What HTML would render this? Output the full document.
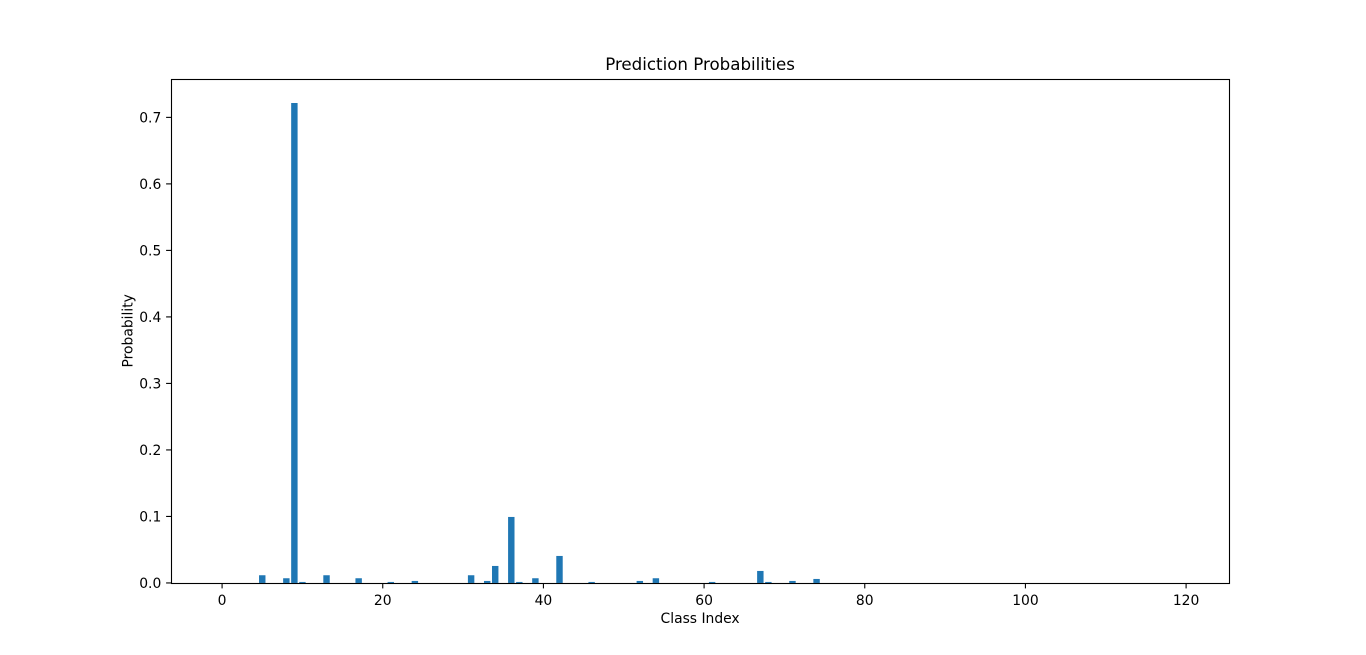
<!DOCTYPE html>
<html>
<head>
<meta charset="utf-8">
<style>
  html, body { margin: 0; padding: 0; background: #ffffff; }
  svg { display: block; }
  text { font-family: "DejaVu Sans", "Liberation Sans", sans-serif; fill: #000000; }
</style>
</head>
<body>
<svg width="1366" height="655" viewBox="0 0 1366 655" xmlns="http://www.w3.org/2000/svg">
  <rect x="0" y="0" width="1366" height="655" fill="#ffffff"/>

  <!-- bars -->
  <g fill="#1f77b4">
    <rect x="259.04" y="575.25" width="6.43" height="7.7"/>
    <rect x="283.14" y="578.25" width="6.43" height="4.7"/>
    <rect x="291.17" y="103" width="6.43" height="479.95"/>
    <rect x="299.21" y="581.95" width="6.43" height="1"/>
    <rect x="323.31" y="575.25" width="6.43" height="7.7"/>
    <rect x="355.44" y="578.25" width="6.43" height="4.7"/>
    <rect x="387.57" y="581.95" width="6.43" height="1"/>
    <rect x="411.67" y="580.95" width="6.43" height="2"/>
    <rect x="467.91" y="575.25" width="6.43" height="7.7"/>
    <rect x="483.98" y="580.95" width="6.43" height="2"/>
    <rect x="492.01" y="565.95" width="6.43" height="17"/>
    <rect x="508.08" y="516.95" width="6.43" height="66"/>
    <rect x="516.11" y="581.95" width="6.43" height="1"/>
    <rect x="532.18" y="578.25" width="6.43" height="4.7"/>
    <rect x="556.28" y="555.95" width="6.43" height="27"/>
    <rect x="588.41" y="581.95" width="6.43" height="1"/>
    <rect x="636.61" y="580.95" width="6.43" height="2"/>
    <rect x="652.68" y="578.25" width="6.43" height="4.7"/>
    <rect x="708.91" y="581.95" width="6.43" height="1"/>
    <rect x="757.12" y="570.95" width="6.43" height="12"/>
    <rect x="765.15" y="581.95" width="6.43" height="1"/>
    <rect x="789.25" y="580.95" width="6.43" height="2"/>
    <rect x="813.35" y="578.95" width="6.43" height="4"/>
  </g>

  <!-- axes frame -->
  <rect x="171.5" y="79.5" width="1058" height="504" fill="none" stroke="#000" stroke-width="1.1"/>

  <!-- x ticks -->
  <g stroke="#000" stroke-width="1.1">
    <line x1="222.08" y1="583.5" x2="222.08" y2="588.4"/>
    <line x1="382.75" y1="583.5" x2="382.75" y2="588.4"/>
    <line x1="543.42" y1="583.5" x2="543.42" y2="588.4"/>
    <line x1="704.09" y1="583.5" x2="704.09" y2="588.4"/>
    <line x1="864.76" y1="583.5" x2="864.76" y2="588.4"/>
    <line x1="1025.43" y1="583.5" x2="1025.43" y2="588.4"/>
    <line x1="1186.1" y1="583.5" x2="1186.1" y2="588.4"/>
  </g>
  <g font-size="13.89" text-anchor="middle">
    <text x="222.08" y="605">0</text>
    <text x="382.75" y="605">20</text>
    <text x="543.42" y="605">40</text>
    <text x="704.09" y="605">60</text>
    <text x="864.76" y="605">80</text>
    <text x="1025.43" y="605">100</text>
    <text x="1186.1" y="605">120</text>
  </g>

  <!-- y ticks -->
  <g stroke="#000" stroke-width="1.1">
    <line x1="166.1" y1="582.95" x2="171.5" y2="582.95"/>
    <line x1="166.1" y1="516.44" x2="171.5" y2="516.44"/>
    <line x1="166.1" y1="449.93" x2="171.5" y2="449.93"/>
    <line x1="166.1" y1="383.42" x2="171.5" y2="383.42"/>
    <line x1="166.1" y1="316.91" x2="171.5" y2="316.91"/>
    <line x1="166.1" y1="250.4" x2="171.5" y2="250.4"/>
    <line x1="166.1" y1="183.89" x2="171.5" y2="183.89"/>
    <line x1="166.1" y1="117.38" x2="171.5" y2="117.38"/>
  </g>
  <g font-size="13.89" text-anchor="end">
    <text x="161.3" y="588">0.0</text>
    <text x="161.3" y="521.5">0.1</text>
    <text x="161.3" y="455">0.2</text>
    <text x="161.3" y="388.5">0.3</text>
    <text x="161.3" y="322">0.4</text>
    <text x="161.3" y="255.5">0.5</text>
    <text x="161.3" y="189">0.6</text>
    <text x="161.3" y="122.5">0.7</text>
  </g>

  <!-- labels -->
  <text x="700.1" y="623" font-size="13.89" text-anchor="middle">Class Index</text>
  <text x="0" y="0" font-size="13.89" text-anchor="middle" transform="translate(132.3,330.8) rotate(-90)">Probability</text>
  <text x="700.1" y="70" font-size="16.67" text-anchor="middle">Prediction Probabilities</text>
</svg>
</body>
</html>
